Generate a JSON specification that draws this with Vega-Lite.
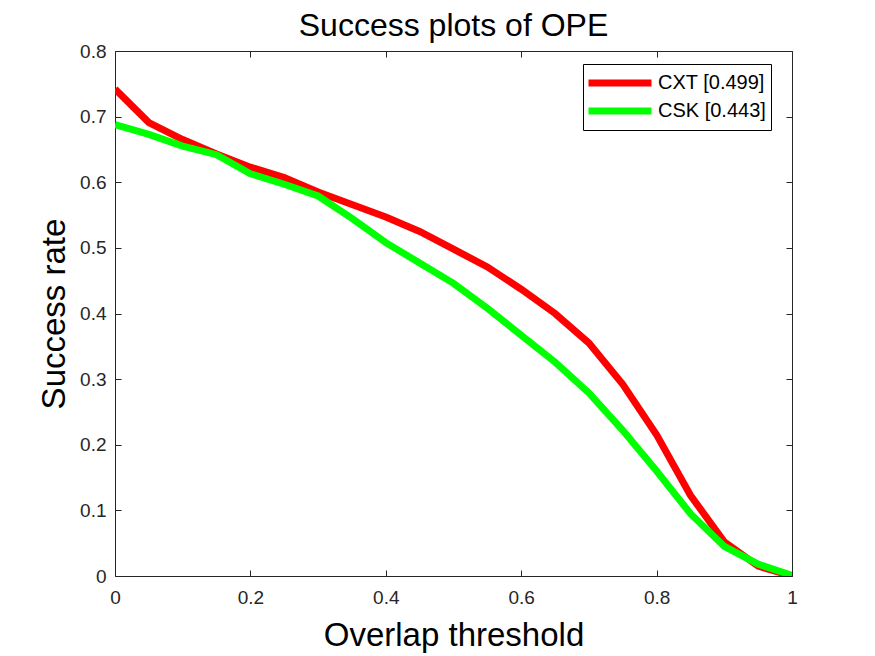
{
  "$schema": "https://vega.github.io/schema/vega-lite/v6.json",
  "autosize": "none",
  "padding": {"left": 115, "top": 51, "right": 83, "bottom": 80},
  "width": 677,
  "height": 525,
  "background": "white",
  "title": {"text": "Success plots of OPE", "fontSize": 32, "font": "Liberation Sans", "fontWeight": "normal", "color": "black", "offset": -1, "anchor": "middle"},
  "config": {
    "view": {"stroke": null},
    "axis": {"grid": false, "domainColor": "#262626", "tickColor": "#262626", "labelColor": "#262626", "titleColor": "black", "labelFont": "Liberation Sans", "titleFont": "Liberation Sans", "labelFontSize": 19, "titleFontSize": 33, "titleFontWeight": "normal", "tickSize": -6, "domainWidth": 1, "tickWidth": 1, "labelFlush": false, "labelOverlap": false, "format": "~g"},
    "legend": {"labelFont": "Liberation Sans", "labelFontSize": 20, "labelColor": "black"}
  },
  "data": {"values": [
    {"t": 0.00, "r": 0.742, "s": "CXT [0.499]"},
    {"t": 0.05, "r": 0.691, "s": "CXT [0.499]"},
    {"t": 0.10, "r": 0.665, "s": "CXT [0.499]"},
    {"t": 0.15, "r": 0.643, "s": "CXT [0.499]"},
    {"t": 0.20, "r": 0.623, "s": "CXT [0.499]"},
    {"t": 0.25, "r": 0.607, "s": "CXT [0.499]"},
    {"t": 0.30, "r": 0.585, "s": "CXT [0.499]"},
    {"t": 0.35, "r": 0.566, "s": "CXT [0.499]"},
    {"t": 0.40, "r": 0.547, "s": "CXT [0.499]"},
    {"t": 0.45, "r": 0.525, "s": "CXT [0.499]"},
    {"t": 0.50, "r": 0.498, "s": "CXT [0.499]"},
    {"t": 0.55, "r": 0.471, "s": "CXT [0.499]"},
    {"t": 0.60, "r": 0.437, "s": "CXT [0.499]"},
    {"t": 0.65, "r": 0.400, "s": "CXT [0.499]"},
    {"t": 0.70, "r": 0.355, "s": "CXT [0.499]"},
    {"t": 0.75, "r": 0.292, "s": "CXT [0.499]"},
    {"t": 0.80, "r": 0.215, "s": "CXT [0.499]"},
    {"t": 0.85, "r": 0.123, "s": "CXT [0.499]"},
    {"t": 0.90, "r": 0.052, "s": "CXT [0.499]"},
    {"t": 0.95, "r": 0.015, "s": "CXT [0.499]"},
    {"t": 1.00, "r": 0.000, "s": "CXT [0.499]"},
    {"t": 0.00, "r": 0.688, "s": "CSK [0.443]"},
    {"t": 0.05, "r": 0.673, "s": "CSK [0.443]"},
    {"t": 0.10, "r": 0.655, "s": "CSK [0.443]"},
    {"t": 0.15, "r": 0.642, "s": "CSK [0.443]"},
    {"t": 0.20, "r": 0.613, "s": "CSK [0.443]"},
    {"t": 0.25, "r": 0.597, "s": "CSK [0.443]"},
    {"t": 0.30, "r": 0.579, "s": "CSK [0.443]"},
    {"t": 0.35, "r": 0.545, "s": "CSK [0.443]"},
    {"t": 0.40, "r": 0.508, "s": "CSK [0.443]"},
    {"t": 0.45, "r": 0.477, "s": "CSK [0.443]"},
    {"t": 0.50, "r": 0.446, "s": "CSK [0.443]"},
    {"t": 0.55, "r": 0.408, "s": "CSK [0.443]"},
    {"t": 0.60, "r": 0.367, "s": "CSK [0.443]"},
    {"t": 0.65, "r": 0.326, "s": "CSK [0.443]"},
    {"t": 0.70, "r": 0.279, "s": "CSK [0.443]"},
    {"t": 0.75, "r": 0.222, "s": "CSK [0.443]"},
    {"t": 0.80, "r": 0.160, "s": "CSK [0.443]"},
    {"t": 0.85, "r": 0.095, "s": "CSK [0.443]"},
    {"t": 0.90, "r": 0.045, "s": "CSK [0.443]"},
    {"t": 0.95, "r": 0.018, "s": "CSK [0.443]"},
    {"t": 1.00, "r": 0.001, "s": "CSK [0.443]"}
  ]},
  "layer": [
    {
      "mark": {"type": "line", "strokeWidth": 7, "clip": true},
      "encoding": {
        "x": {"field": "t", "type": "quantitative", "scale": {"domain": [0, 1], "nice": false}, "axis": {"title": "Overlap threshold", "values": [0, 0.2, 0.4, 0.6, 0.8, 1], "labelPadding": 18, "titlePadding": 12}},
        "y": {"field": "r", "type": "quantitative", "scale": {"domain": [0, 0.8], "nice": false}, "axis": {"title": "Success rate", "values": [0, 0.1, 0.2, 0.3, 0.4, 0.5, 0.6, 0.7, 0.8], "labelPadding": 15, "titlePadding": 8}},
        "color": {"field": "s", "type": "nominal", "sort": null, "scale": {"domain": ["CXT [0.499]", "CSK [0.443]"], "range": ["#ff0000", "#00ff00"]},
          "legend": {"title": null, "orient": "none", "legendX": 468, "legendY": 13, "symbolType": "M-3,0H3", "symbolSize": 441, "symbolStrokeWidth": 7, "symbolOffset": 18, "labelOffset": 24, "strokeColor": "black", "fillColor": "white", "padding": 5, "rowPadding": -5}}
      }
    },
    {
      "mark": {"type": "line", "opacity": 0},
      "encoding": {
        "x": {"field": "t", "type": "quantitative", "axis": {"orient": "top", "title": null, "labels": false, "values": [0, 0.2, 0.4, 0.6, 0.8, 1]}},
        "y": {"field": "r", "type": "quantitative", "axis": {"orient": "right", "title": null, "labels": false, "values": [0, 0.1, 0.2, 0.3, 0.4, 0.5, 0.6, 0.7, 0.8]}}
      }
    }
  ],
  "resolve": {"axis": {"x": "independent", "y": "independent"}}
}
